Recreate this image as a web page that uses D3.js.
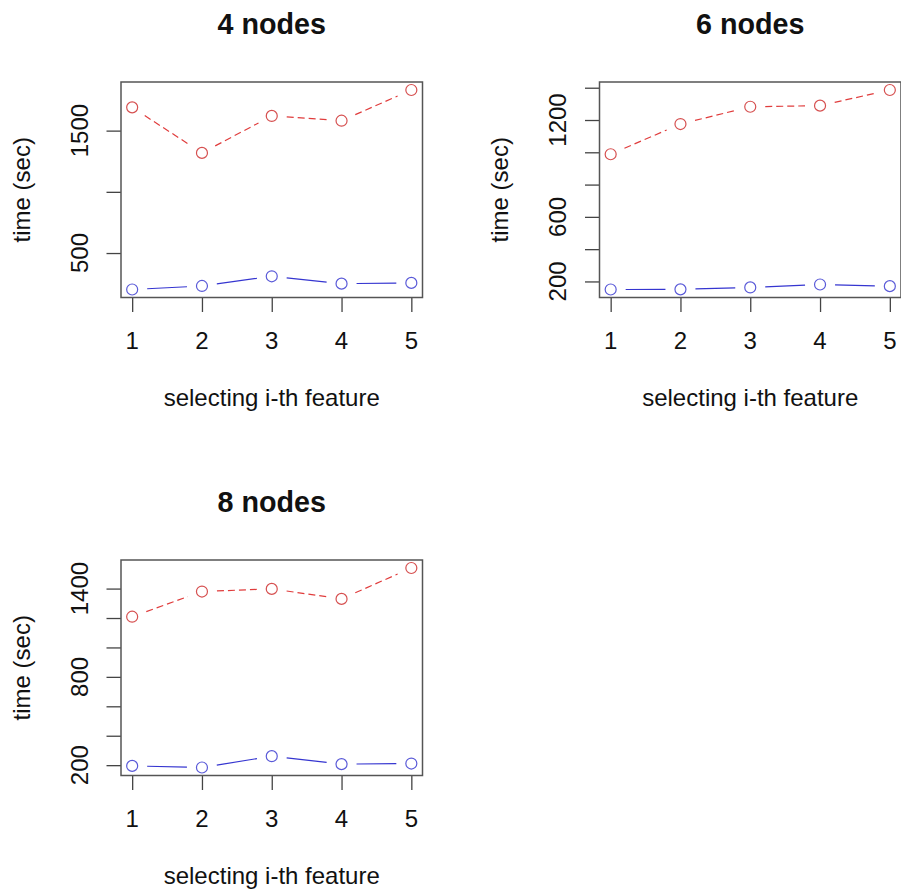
<!DOCTYPE html>
<html>
<head>
<meta charset="utf-8">
<script src="https://cdn.jsdelivr.net/npm/d3@7"></script>
<style>
  html, body { margin: 0; padding: 0; background: #fff; }
  svg { display: block; }
  text { font-family: "Liberation Sans", Arial, Helvetica, sans-serif; fill: #111; }
</style>
</head>
<body>
<svg id="chart" width="901" height="893"></svg>
<script>
// ---- data ----
const features = [1, 2, 3, 4, 5];
const panelTitles = ["4 nodes", "6 nodes", "8 nodes"];
const redNodes4  = [1690, 1318, 1620, 1581, 1832];
const blueNodes4 = [202, 231, 310, 250, 256];
const redNodes6  = [988, 1175, 1282, 1289, 1386];
const blueNodes6 = [150, 151, 163, 181, 171];
const redNodes8  = [1209, 1380, 1398, 1330, 1540];
const blueNodes8 = [195, 184, 261, 207, 211];
const yTicks4 = [500, 1000, 1500];
const yTickLabels4 = [500, 1500];
const yTicks6 = [200, 400, 600, 800, 1000, 1200, 1400];
const yTickLabels6 = [200, 600, 1200];
const yTicks8 = [200, 400, 600, 800, 1000, 1200, 1400];
const yTickLabels8 = [200, 800, 1400];
const xLabel = "selecting i-th feature";
const yLabel = "time (sec)";

const panels = [
  { title: panelTitles[0], red: redNodes4, blue: blueNodes4, ticks: yTicks4, labels: yTickLabels4, col: 0, row: 0 },
  { title: panelTitles[1], red: redNodes6, blue: blueNodes6, ticks: yTicks6, labels: yTickLabels6, col: 1, row: 0 },
  { title: panelTitles[2], red: redNodes8, blue: blueNodes8, ticks: yTicks8, labels: yTickLabels8, col: 0, row: 1 }
];

// ---- layout ----
const svg = d3.select("#chart");
svg.append("rect").attr("width", 901).attr("height", 893).attr("fill", "#fff");

const plotW = 301.5, plotH = 215.5;
const baseLeft = 121, baseTop = 82;
const dx = 478.5, dy = 478;
const tickLen = 14.5;
const gap = 15;        // gap between point and line (type = "b")
const radius = 5.5;

function ext(vals) {
  const [mn, mx] = d3.extent(vals);
  const r = mx - mn;
  return [mn - 0.04 * r, mx + 0.04 * r];
}

panels.forEach(p => {
  const left = baseLeft + p.col * dx;
  const top = baseTop + p.row * dy;
  const g = svg.append("g").attr("transform", `translate(${left},${top})`);

  const x = d3.scaleLinear().domain([1 - 0.04 * 4, 5 + 0.04 * 4]).range([0, plotW]);
  const y = d3.scaleLinear().domain(ext(p.red.concat(p.blue))).range([plotH, 0]);

  // x axis
  const xAxis = d3.axisBottom(x).tickValues(features).tickSize(tickLen).tickFormat("");
  const xa = g.append("g").attr("transform", `translate(0,${plotH})`).call(xAxis);
  xa.select(".domain").remove();
  xa.selectAll("line").attr("stroke", "#444").attr("stroke-width", 1.3);
  g.selectAll("text.xtl").data(features).enter().append("text")
    .attr("class", "xtl")
    .attr("x", d => x(d)).attr("y", plotH + 51)
    .attr("text-anchor", "middle").attr("font-size", 24)
    .text(d => d);

  // y axis
  const yAxis = d3.axisLeft(y).tickValues(p.ticks).tickSize(tickLen).tickFormat("");
  const ya = g.append("g").call(yAxis);
  ya.select(".domain").remove();
  ya.selectAll("line").attr("stroke", "#444").attr("stroke-width", 1.3);
  g.selectAll("text.ytl").data(p.labels).enter().append("text")
    .attr("class", "ytl")
    .attr("transform", d => `translate(-33.5,${y(d)}) rotate(-90)`)
    .attr("text-anchor", "middle").attr("font-size", 24)
    .text(d => d);

  // box
  g.append("rect").attr("x", 0).attr("y", 0).attr("width", plotW).attr("height", plotH)
    .attr("fill", "none").attr("stroke", "#555").attr("stroke-width", 1.5);

  // series
  const series = [
    { vals: p.red, line: "#e03c3c", point: "#d65050", dash: "7,4" },
    { vals: p.blue, line: "#3535d0", point: "#5a5ad8", dash: null }
  ];
  const lineGen = d3.line();
  series.forEach(s => {
    const pts = features.map((f, i) => [x(f), y(s.vals[i])]);
    const segs = [];
    for (let i = 0; i < pts.length - 1; i++) {
      const [x0, y0] = pts[i], [x1, y1] = pts[i + 1];
      const len = Math.hypot(x1 - x0, y1 - y0);
      if (len <= 2 * gap) continue;
      const ux = (x1 - x0) / len, uy = (y1 - y0) / len;
      segs.push([[x0 + ux * gap, y0 + uy * gap], [x1 - ux * gap, y1 - uy * gap]]);
    }
    g.selectAll(null).data(segs).enter().append("path")
      .attr("d", d => lineGen(d))
      .attr("fill", "none").attr("stroke", s.line).attr("stroke-width", 1.2)
      .attr("stroke-dasharray", s.dash);
    g.selectAll(null).data(pts).enter().append("circle")
      .attr("cx", d => d[0]).attr("cy", d => d[1]).attr("r", radius)
      .attr("fill", "none").attr("stroke", s.point).attr("stroke-width", 1.2);
  });

  // title & axis labels
  g.append("text").attr("x", plotW / 2).attr("y", -47.7)
    .attr("text-anchor", "middle").attr("font-size", 28.7).attr("font-weight", "bold")
    .text(p.title);
  g.append("text").attr("x", plotW / 2).attr("y", plotH + 108.7)
    .attr("text-anchor", "middle").attr("font-size", 24)
    .text(xLabel);
  g.append("text")
    .attr("transform", `translate(-91.5,${plotH / 2}) rotate(-90)`)
    .attr("text-anchor", "middle").attr("font-size", 24)
    .text(yLabel);
});
</script>
</body>
</html>
